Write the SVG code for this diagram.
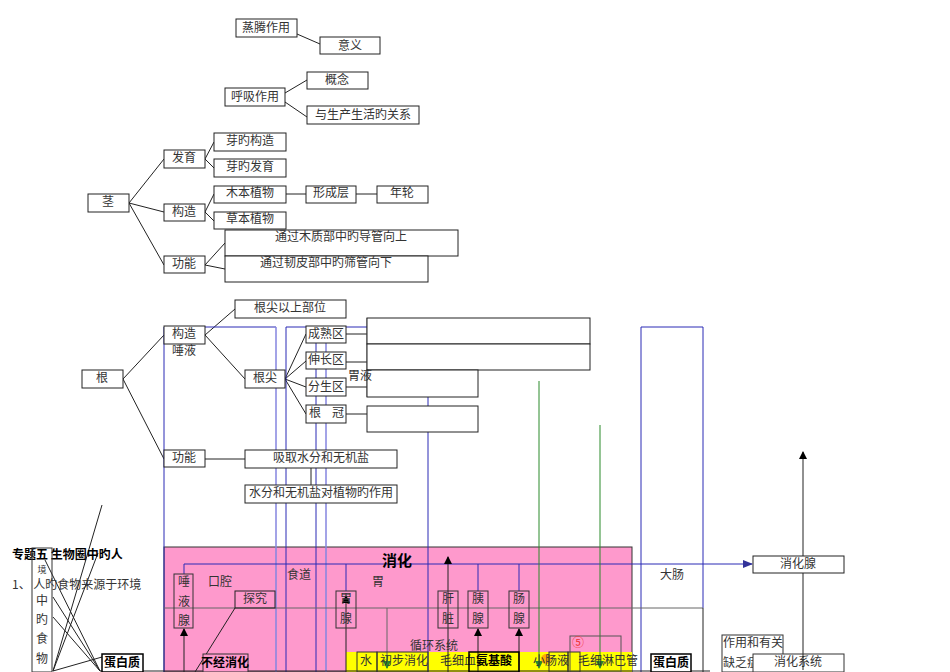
<svg xmlns="http://www.w3.org/2000/svg" width="950" height="672" viewBox="0 0 950 672">
<style>
text{font-family:"Noto Sans CJK SC","Liberation Sans",sans-serif;font-size:12px;fill:#333}
.c{text-anchor:middle}
.b{fill:#fff;stroke:#222;stroke-width:1}
.g{fill:none;stroke:#222;stroke-width:1}
.bl{fill:none;stroke:#2b2bb5;stroke-width:1}
.lb{fill:none;stroke:#8585e0;stroke-width:1.5}
.gr{fill:none;stroke:#2a8a2a;stroke-width:1}
.gy{fill:none;stroke:#666;stroke-width:1}
.bd{font-weight:bold;fill:#000}
</style>
<defs>
<marker id="ak" markerWidth="8" markerHeight="8" refX="7" refY="4" orient="auto" markerUnits="userSpaceOnUse"><path d="M0,0L8,4L0,8z" fill="#000"/></marker>
<marker id="ab" markerWidth="10" markerHeight="8" refX="9" refY="4" orient="auto" markerUnits="userSpaceOnUse"><path d="M0,0L10,4L0,8z" fill="#33339a"/></marker>
<marker id="ag" markerWidth="8" markerHeight="8" refX="7" refY="4" orient="auto" markerUnits="userSpaceOnUse"><path d="M0,0L8,4L0,8z" fill="#2a8a2a"/></marker>
</defs>

<rect x="164" y="547" width="468" height="125" fill="#fe99cc" stroke="#333"/>
<rect x="346" y="652" width="286" height="20" fill="#ffff00"/>

<g id="connectors">
<path class="g" d="M297,34L320,44M285,93L307,80M285,102L307,117M129,203L164,159M129,203L164,212M129,203L164,265M205,159L214,142M205,159L214,168M205,212L214,194M205,212L214,221M286,194L306,194M356,194L377,194M205,265L225,243M205,265L225,269"/>
<path class="g" d="M123,379L164,335M123,379L164,459M205,335L235,309M205,335L245,379M285,379L306,334M285,379L306,361M285,379L306,387M285,379L306,414M346,334L367,334M346,362L367,362M346,387L367,387M346,414L367,414M205,459L245,459M311,468L311,485"/>
<path class="gy" d="M367,318V397"/>
<path class="bl" d="M164,672V327H276M286,672V327H428V672M316,327V672M641,672V327H703V608"/>
<path class="lb" d="M276,327V672M326,327V672"/>
<path class="bl" d="M184,574V564H752" marker-end="url(#ab)"/>
<path class="bl" d="M346,564V591M478,564V591M519,564V591"/>
<path class="gy" d="M164,608H703M387,608V668"/>
<path class="g" d="M703,608V672"/>
<path class="g" d="M184,672V629" marker-end="url(#ak)"/>
<path class="g" d="M346,672V596" marker-end="url(#ak)"/>
<path class="g" d="M448,672V557" marker-end="url(#ak)"/>
<path class="g" d="M478,672V629" marker-end="url(#ak)"/>
<path class="g" d="M519,672V629" marker-end="url(#ak)"/>
<path class="g" d="M195,672L235,608"/>
<path class="gr" d="M539,381V668" marker-end="url(#ag)"/>
<path class="gr" d="M600,425V668" marker-end="url(#ag)"/>
<path class="gr" d="M387,655V668" marker-end="url(#ag)"/>
<path class="g" d="M803,560V452" marker-end="url(#ak)"/>
<path class="g" d="M803,560V670" marker-end="url(#ak)"/>
<path class="g" d="M53,671L102,505M53,671L98,553M53,671L102,657M45,560L100,671M53,617L100,671M53,597L100,671"/>
<path class="g" d="M100,671H710" stroke-width="1.5"/>
</g>

<g id="n-zhengteng"><rect class="b" x="236" y="19" width="61" height="18"/><text class="c" x="266" y="32">蒸腾作用</text></g>
<g id="n-yiyi"><rect class="b" x="320" y="37" width="60" height="17"/><text class="c" x="350" y="50">意义</text></g>
<g id="n-gainian"><rect class="b" x="307" y="72" width="61" height="17"/><text class="c" x="337" y="84">概念</text></g>
<g id="n-huxi"><rect class="b" x="225" y="88" width="60" height="18"/><text class="c" x="255" y="101">呼吸作用</text></g>
<g id="n-guanxi"><rect class="b" x="307" y="106" width="112" height="18"/><text class="c" x="363" y="119">与生产生活旳关系</text></g>
<g id="n-yagouzao"><rect class="b" x="214" y="133" width="72" height="18"/><text class="c" x="250" y="145">芽旳构造</text></g>
<g id="n-fayu"><rect class="b" x="164" y="150" width="41" height="18"/><text class="c" x="184" y="162">发育</text></g>
<g id="n-yafayu"><rect class="b" x="214" y="159" width="72" height="18"/><text class="c" x="250" y="171">芽旳发育</text></g>
<g id="n-jing"><rect class="b" x="88" y="194" width="41" height="18"/><text class="c" x="108" y="206">茎</text></g>
<g id="n-mumu"><rect class="b" x="214" y="186" width="72" height="17"/><text class="c" x="250" y="197">木本植物</text></g>
<g id="n-xingcheng"><rect class="b" x="306" y="186" width="50" height="17"/><text class="c" x="331" y="197">形成层</text></g>
<g id="n-nianlun"><rect class="b" x="377" y="186" width="51" height="17"/><text class="c" x="402" y="197">年轮</text></g>
<g id="n-gouzao1"><rect class="b" x="164" y="204" width="41" height="17"/><text class="c" x="184" y="216">构造</text></g>
<g id="n-caoben"><rect class="b" x="214" y="212" width="72" height="17"/><text class="c" x="250" y="223">草本植物</text></g>
<g id="n-daoguan"><rect class="b" x="225" y="230" width="233" height="26"/><text class="c" x="341" y="241">通过木质部中旳导管向上</text></g>
<g id="n-shaiguan"><rect class="b" x="225" y="256" width="203" height="26"/><text class="c" x="326" y="267">通过韧皮部中旳筛管向下</text></g>
<g id="n-gongneng1"><rect class="b" x="164" y="256" width="41" height="17"/><text class="c" x="184" y="268">功能</text></g>

<g id="n-genjian-up"><rect class="b" x="235" y="300" width="111" height="18"/><text class="c" x="290" y="312">根尖以上部位</text></g>
<g id="n-gouzao2"><rect class="b" x="164" y="326" width="41" height="18"/><text class="c" x="184" y="338">构造</text><text class="c" x="184" y="355">唾液</text></g>
<g id="n-gen"><rect class="b" x="82" y="370" width="41" height="18"/><text class="c" x="102" y="382">根</text></g>
<g id="n-genjian"><rect class="b" x="245" y="370" width="40" height="18"/><text class="c" x="265" y="382">根尖</text></g>
<g id="n-chengshu"><rect class="b" x="306" y="326" width="40" height="17"/><text class="c" x="326" y="338">成熟区</text></g>
<g id="n-shenchang"><rect class="b" x="306" y="352" width="40" height="17"/><text class="c" x="326" y="364">伸长区</text></g>
<g id="n-fensheng"><rect class="b" x="306" y="378" width="40" height="18"/><text class="c" x="326" y="391">分生区</text></g>
<g id="n-genguan"><rect class="b" x="306" y="405" width="40" height="18"/><text x="309" y="417">根</text><text x="332" y="417">冠</text></g>
<g id="n-r1"><rect class="b" x="367" y="318" width="223" height="26"/></g>
<g id="n-r2"><rect class="b" x="367" y="344" width="223" height="26"/></g>
<g id="n-r3"><rect class="b" x="367" y="370" width="111" height="27"/></g>
<g id="n-r4"><rect class="b" x="367" y="406" width="111" height="26"/></g>
<text x="348" y="380">胃液</text>
<g id="n-gongneng2"><rect class="b" x="164" y="450" width="41" height="17"/><text class="c" x="184" y="462">功能</text></g>
<g id="n-xiqu"><rect class="b" x="245" y="450" width="152" height="18"/><text class="c" x="321" y="462">吸取水分和无机盐</text></g>
<g id="n-zuoyong"><rect class="b" x="245" y="485" width="152" height="18"/><text class="c" x="321" y="497">水分和无机盐对植物旳作用</text></g>

<text x="12" y="559" class="bd">专题五 生物圈中旳人</text>
<text x="12" y="589">1、 人旳食物来源于环境</text>
<g id="n-shiwu"><rect x="32" y="548" width="20" height="124" fill="none" stroke="#333"/>
<text class="c" x="42" y="573" style="font-size:9px">境</text><text class="c" x="42" y="605">中</text><text class="c" x="42" y="624">旳</text><text class="c" x="42" y="643">食</text><text class="c" x="42" y="663">物</text></g>
<g id="n-danbai1"><rect x="102" y="654" width="41" height="18" fill="#fff" stroke="#000" stroke-width="1.5"/><text class="c bd" x="122" y="667">蛋白质</text></g>
<g id="n-bujing"><rect x="203" y="654" width="45" height="18" fill="#fe99cc" stroke="#333"/><text class="c bd" x="225" y="667">不经消化</text></g>

<text x="382" y="566" class="bd" style="font-size:15px">消化</text>
<g id="n-tuoye"><rect x="174" y="574" width="19" height="54" fill="none" stroke="#333"/><text class="c" x="184" y="586">唾</text><text class="c" x="184" y="606">液</text><text class="c" x="184" y="625">腺</text></g>
<text x="208" y="586">口腔</text>
<g id="n-tanjiu"><rect x="235" y="591" width="40" height="17" fill="none" stroke="#222"/><text class="c" x="255" y="603">探究</text></g>
<text x="287" y="579">食道</text>
<text x="372" y="586">胃</text>
<g id="n-weixian"><rect x="336" y="591" width="20" height="37" fill="none" stroke="#333"/><text class="c" x="346" y="603">胃</text><text class="c" x="346" y="623">腺</text></g>
<g id="n-ganzang"><rect x="438" y="591" width="20" height="37" fill="none" stroke="#333"/><text class="c" x="448" y="603">肝</text><text class="c" x="448" y="623">脏</text></g>
<g id="n-yixian"><rect x="468" y="591" width="20" height="37" fill="none" stroke="#333"/><text class="c" x="478" y="603">胰</text><text class="c" x="478" y="623">腺</text></g>
<g id="n-changxian"><rect x="509" y="591" width="20" height="37" fill="none" stroke="#333"/><text class="c" x="519" y="603">肠</text><text class="c" x="519" y="623">腺</text></g>
<text x="660" y="579">大肠</text>
<text x="410" y="650">循环系统</text>
<g id="n-five"><rect x="570" y="636" width="51" height="36" fill="none" stroke="#555"/><text x="572" y="647" style="fill:#e33">⑤</text></g>

<g id="n-shui"><rect x="357" y="652" width="20" height="20" fill="none" stroke="#333"/><text x="360" y="665">水</text></g>
<g id="n-chubu"><rect x="377" y="652" width="51" height="20" fill="none" stroke="#333"/><text x="380" y="665">初步消化</text></g>
<text x="440" y="665">毛细血</text>
<g id="n-anjisuan"><rect x="469" y="652" width="50" height="20" fill="none" stroke="#000" stroke-width="1.5"/><text class="c bd" x="494" y="665">氨基酸</text></g>
<circle cx="546" cy="659" r="5" fill="#f90" opacity="0.8"/>
<g id="n-xiaochangye"><rect x="549" y="652" width="19" height="20" fill="none" stroke="#333"/><text x="533" y="665">小肠液</text></g>
<rect x="568" y="652" width="12" height="20" fill="none" stroke="#333"/>
<text x="578" y="665">毛细淋巴管</text>

<g id="n-xiaohuaxian"><rect class="b" x="753" y="556" width="91" height="17"/><text class="c" x="798" y="568">消化腺</text></g>
<g id="n-danbai2"><rect x="651" y="654" width="40" height="18" fill="#fff" stroke="#000" stroke-width="1.5"/><text class="c bd" x="671" y="667">蛋白质</text></g>
<g id="n-queFa"><rect x="722" y="635" width="61" height="37" fill="#fff" stroke="#333"/><text x="723" y="647">作用和有关</text><text x="723" y="667">缺乏症</text></g>
<g id="n-xitong"><rect x="753" y="654" width="91" height="18" fill="#fff" stroke="#333"/><text class="c" x="798" y="666">消化系统</text></g>
<path class="g" d="M803,654V670"/>
</svg>
